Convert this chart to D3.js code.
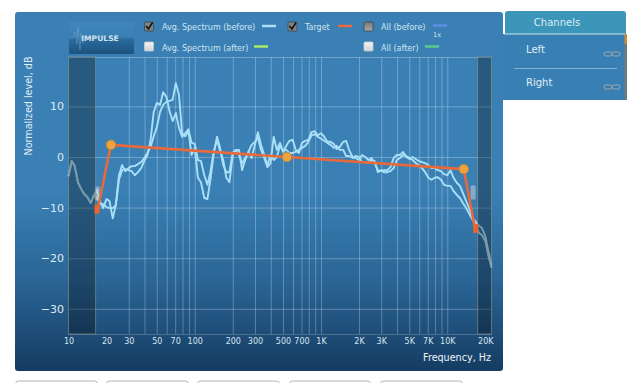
<!DOCTYPE html>
<html><head><meta charset="utf-8">
<script src="https://cdn.jsdelivr.net/npm/d3@7"></script>
<style>
html,body{margin:0;padding:0;background:#fff;}
svg{display:block;}
text{font-family:"DejaVu Sans",sans-serif;}
</style></head><body><svg id="c" width="640" height="383"></svg>
<script>
const freqs=[10,10.6,11.2,11.9,12.6,13.3,14.1,15,15.8,16.8,17.8,18.8,20,21.1,22.4,23.7,25.1,26.6,28.2,29.9,31.6,33.5,35.5,37.6,39.8,42.2,44.7,47.3,50.1,53.1,56.2,59.6,63.1,66.8,70.8,75,79.4,84.1,89.1,94.4,
100,106,112,119,126,133,141,150,158,168,178,188,200,211,224,237,251,266,282,299,316,335,355,376,398,422,447,473,501,531,562,596,631,668,708,750,794,841,891,944,
1000,1060,1120,1190,1260,1330,1410,1500,1580,1680,1780,1880,2000,2110,2240,2370,2510,2660,2820,2990,3160,3350,3550,3760,3980,4220,4470,4730,5010,5310,5620,5960,6310,6680,7080,7500,7940,8410,8910,9440,
10000,10600,11200,11900,12600,13300,14100,15000,15800,16800,17800,18800,20000,21100,22400];
const spectrumA=[-3.8,-0.8,-1.8,-5.1,-6.3,-7.3,-7.9,-9.1,-7.7,-6.5,-8.9,-10.1,-8.3,-8.7,-12.1,-9.5,-3.6,-1.6,-2.8,-2.2,-1.8,-1.8,-1.4,-1.0,-0.2,0.8,2.0,4.1,5.9,8.9,10.3,10.9,11.1,11.3,14.6,12.3,4.7,4.1,5.1,0.4,
1.8,-4.1,-5.0,-8.1,-8.3,-4.5,0.4,4.0,2.0,-1.6,-3.0,-3.0,0.8,1.4,0.4,-1.2,-0.2,1.0,2.4,3.0,3.8,1.4,-0.2,-2.0,-1.2,4.0,1.4,2.8,1.0,2.2,3.2,3.4,1.4,0.8,2.8,3.2,3.4,4.9,5.1,4.3,
4.7,4.0,3.0,3.0,2.6,1.6,2.0,3.0,3.2,1.2,0,-0.2,-0.6,0.4,0,-0.6,-0.2,-1.2,-2.6,-2.8,-2.6,-2.6,-2.0,-0.2,0.4,0.4,1.0,0,-0.4,0,-0.4,-0.8,-1.0,-1.2,-1.6,-2.2,-2.2,-2.6,-2.8,-3.4,
-3.6,-2.6,-4.1,-5.1,-5.7,-7.1,-8.7,-10.3,-12.1,-12.8,-13.6,-14.0,-15.6,-18.4,-21.3];
const spectrumB=[-3.8,-0.8,-1.8,-5.1,-6.3,-7.3,-7.9,-9.1,-7.7,-8.1,-9.1,-9.3,-9.9,-10.1,-10.1,-9.5,-4.5,-2.6,-2.4,-2.6,-2.8,-3.6,-3.0,-2.2,-0.8,0.4,3.4,8.9,10.7,10.3,12.8,11.9,9.1,7.1,8.7,5.7,4.0,4.7,5.5,2.8,
2.6,-0.6,-0.8,-3.6,-5.5,-3.0,1.0,3.4,1.4,-0.6,-4.1,-5.0,0.4,1.4,1.4,-2.6,-0.6,1.0,-0.2,2.4,4.9,2.4,0.4,-1.6,0.4,-0.6,0,2.2,1.2,1.4,0.8,0.8,1.0,1.4,1.8,2.2,3.0,4.3,4.5,4.0,
3.6,3.2,2.8,2.4,1.8,2.2,1.4,1.4,0.2,0.2,-0.2,0.2,0,-1,-1,-1.2,-0.6,-0.8,-3,-2.6,-3,-3,-2.8,-2.2,-0.6,-0.2,0.4,0.2,-0.2,-0.6,-1.2,-1.6,-2.2,-3,-4.1,-4.5,-4.1,-4,-4.5,-5.5,
-5.7,-5.7,-6.7,-7.5,-8.1,-9.1,-10.1,-11.3,-12.3,-13.4,-15,-15.4,-16.6,-19.4,-21.9];
const targetFreqs=[16.8,21.7,537,13500,16800];
const targetDb=[-11,2.4,0,-2.4,-14.8];
const handleIndex=[1,2,3];
const bandLow=[10,16.4];
const bandHigh=[17400,22400];
const markerFreqs=[16.9,16000];
const markerDb=[-7.2,-7.0];
const xTickValues=[10,20,30,50,70,100,200,300,500,700,1000,2000,3000,5000,7000,10000,20000];
const xGridValues=[30,40,50,60,70,80,90,100,200,300,400,500,600,700,800,900,1000,2000,3000,4000,5000,6000,7000,8000,9000,10000];
const yTickValues=[10,0,-10,-20,-30];
const legendLabels=["Avg. Spectrum (before)","Avg. Spectrum (after)","Target","All (before)","All (after)"];
const channelLabels=["Left","Right"];

const svg=d3.select("#c");
const defs=svg.append("defs");
function grad(id,stops){const g=defs.append("linearGradient").attr("id",id).attr("x1",0).attr("x2",0).attr("y1",0).attr("y2",1);
 stops.forEach(s=>g.append("stop").attr("offset",s[0]).attr("stop-color",s[1]));}
grad("panel",[[0,"#3a80b5"],[0.5,"#3a80b5"],[0.75,"#2a6596"],[1,"#153c62"]]);
grad("btn",[[0,"#3f86ba"],[0.45,"#3a80b4"],[0.55,"#2a6a9c"],[1,"#1b527f"]]);
grad("chk",[[0,"#f4f4f4"],[1,"#cfd4d8"]]);
grad("chkOn",[[0,"#777"],[1,"#aaa"]]);

const x=d3.scaleLog().domain([10,22400]).range([68.5,491.5]);
const y=d3.scaleLinear().domain([0,-10]).range([157,207.6]);
const top_=57,bot=334;

svg.append("rect").attr("x",15).attr("y",12).attr("width",488).attr("height",359).attr("rx",3).attr("fill","url(#panel)");

[[15,97],[106,188],[197,279],[289,370],[380,462]].forEach(b=>svg.append("rect").attr("x",b[0]+.5).attr("y",381).attr("width",b[1]-b[0]).attr("height",10).attr("rx",3).attr("fill","#fff").attr("stroke","#b4b4b4"));

const gx=svg.append("g").attr("transform",`translate(0,${bot})`).call(d3.axisBottom(x).tickValues(xGridValues).tickSize(-(bot-top_)).tickFormat(""));
gx.select(".domain").remove();
gx.selectAll("line").attr("stroke","#fff").attr("stroke-opacity",.27);
const gy=svg.append("g").attr("transform","translate(68.5,0)").call(d3.axisLeft(y).tickValues(yTickValues).tickSize(-423).tickFormat(""));
gy.select(".domain").remove();
gy.selectAll("line").attr("stroke","#fff").attr("stroke-opacity",.27);
svg.append("line").attr("x1",68.5).attr("x2",491.5).attr("y1",top_+.5).attr("y2",top_+.5).attr("stroke","#fff").attr("stroke-opacity",.27);
svg.append("line").attr("x1",68.5).attr("x2",491.5).attr("y1",bot+.5).attr("y2",bot+.5).attr("stroke","#fff").attr("stroke-opacity",.2);

const line=d3.line().x((d,i)=>x(freqs[i])).y(d=>y(d)).curve(d3.curveLinear);
[spectrumB,spectrumA].forEach(s=>svg.append("path").datum(s).attr("d",line).attr("fill","none").attr("stroke","#a9dff7").attr("stroke-width",1.9).attr("stroke-linejoin","round"));

markerFreqs.forEach((f,i)=>{
 svg.append("rect").attr("x",x(f)-2.5).attr("y",y(markerDb[i])-7).attr("width",5).attr("height",14).attr("rx",1).attr("fill","#c9ced2").attr("fill-opacity",.55);
});

[bandLow,bandHigh].forEach(b=>{
 svg.append("rect").attr("x",x(b[0])).attr("y",top_).attr("width",x(b[1])-x(b[0])).attr("height",bot-top_).attr("fill","#000").attr("fill-opacity",.3).attr("stroke","#9a9a8a").attr("stroke-opacity",.55);
});

const tLine=d3.line().x((d,i)=>x(targetFreqs[i])).y(d=>y(d));
svg.append("path").datum(targetDb).attr("d",tLine).attr("fill","none").attr("stroke","#e8693a").attr("stroke-width",2.6).attr("stroke-linejoin","round");
[0,4].forEach(i=>svg.append("rect").attr("x",x(targetFreqs[i])-2.5).attr("y",y(targetDb[i])-8).attr("width",5).attr("height",9).attr("fill","#e8652e"));
svg.selectAll("circle.h").data(handleIndex).join("circle").attr("class","h")
 .attr("cx",i=>x(targetFreqs[i])).attr("cy",i=>y(targetDb[i])).attr("r",4.8)
 .attr("fill","#f1a23e").attr("stroke","#a98c45").attr("stroke-width",1);

const xFmt=d=>d>=1000?(d/1000)+"K":d;
const ax=svg.append("g").attr("transform",`translate(0,${bot})`).call(d3.axisBottom(x).tickValues(xTickValues).tickSize(0).tickPadding(4).tickFormat(xFmt));
ax.select(".domain").remove();
ax.selectAll("text").attr("fill","#d6e6f0").attr("font-size",8).attr("dy","0.8em");
const ay=svg.append("g").attr("transform","translate(64,0)").call(d3.axisLeft(y).tickValues(yTickValues).tickSize(0).tickPadding(0).tickFormat(d=>d<0?"\u2212"+(-d):d));
ay.select(".domain").remove();
ay.selectAll("text").attr("fill","#dcebf3").attr("font-size",11);

svg.append("text").attr("transform","translate(32,106) rotate(-90)").attr("text-anchor","middle").attr("font-size",9.6).attr("fill","#e2eef5").text("Normalized level, dB");
svg.append("text").attr("x",491).attr("y",361).attr("text-anchor","end").attr("font-size",9.6).attr("fill","#eef5f9").text("Frequency, Hz");

svg.append("rect").attr("x",69).attr("y",22).attr("width",65).attr("height",32).attr("rx",1).attr("fill","url(#btn)");
svg.append("path").attr("d","M70 38H73L75 32L77 44L78 27L80 50L81 33L83 43L85 36L87 40L90 38H100").attr("fill","none").attr("stroke","#7fb2d4").attr("stroke-opacity",.5).attr("stroke-width",.8);
svg.append("text").attr("x",100).attr("y",41).attr("text-anchor","middle").attr("font-size",7.6).attr("font-weight","bold").attr("fill","#cfe3ef").text("IMPULSE");

const legendRows=[
 {lab:0,cx:144.5,cy:22,on:1,tx:162,ty:30,sw:[262,276,26],col:"#a9dff7"},
 {lab:1,cx:144.5,cy:42,on:0,tx:162,ty:51,sw:[254,268,46.5],col:"#a8e86a"},
 {lab:2,cx:288,cy:22,on:1,tx:305,ty:30,sw:[338,352,26],col:"#e8693a"},
 {lab:3,cx:364,cy:22,on:2,tx:381,ty:30,sw:[433,447,25.5],col:"#5b90e2"},
 {lab:4,cx:364,cy:42,on:0,tx:381,ty:51,sw:[425,439,46.5],col:"#5cc98c"}];
legendRows.forEach(r=>{
 svg.append("rect").attr("x",r.cx).attr("y",r.cy).attr("width",9).attr("height",9).attr("rx",1).attr("fill",r.on==1?"#7d8488":r.on==2?"url(#chkOn)":"url(#chk)").attr("stroke",r.on?"#444":"#ccc").attr("stroke-width",.8);
 if(r.on==1) svg.append("path").attr("d",`M${r.cx+1.5} ${r.cy+4}l2.5 3l4 -6.5`).attr("fill","none").attr("stroke","#111").attr("stroke-width",1.6);
 svg.append("text").attr("x",r.tx).attr("y",r.ty).attr("font-size",8).attr("fill","#d3e5f0").text(legendLabels[r.lab]);
 svg.append("line").attr("x1",r.sw[0]).attr("x2",r.sw[1]).attr("y1",r.sw[2]).attr("y2",r.sw[2]).attr("stroke",r.col).attr("stroke-width",2.5);
});
svg.append("text").attr("x",433).attr("y",37).attr("font-size",6.5).attr("fill","#d3e5f0").text("1x");

svg.append("rect").attr("x",503).attr("y",34).attr("width",124).attr("height",66).attr("fill","#3880b4");
svg.append("rect").attr("x",624.5).attr("y",34).attr("width",2.5).attr("height",66).attr("fill","#6f7a80");
svg.append("rect").attr("x",624.5).attr("y",34).attr("width",2.5).attr("height",10).attr("fill","#c98a3a");
svg.append("path").attr("d","M505 34V14a3 3 0 0 1 3-3H623a3 3 0 0 1 3 3V34Z").attr("fill","#3c96b9");
svg.append("line").attr("x1",504).attr("x2",625).attr("y1",34).attr("y2",34).attr("stroke","#cfe3ec").attr("stroke-width",1);
svg.append("text").attr("x",557).attr("y",26).attr("text-anchor","middle").attr("font-size",10).attr("fill","#dcecf3").text("Channels");
svg.append("line").attr("x1",514).attr("x2",617).attr("y1",68.5).attr("y2",68.5).attr("stroke","#7fb3d3").attr("stroke-width",1);
channelLabels.forEach((t,i)=>{
 const yy=53+i*33;
 svg.append("text").attr("x",526).attr("y",yy).attr("font-size",10).attr("fill","#e2eef5").text(t);
 const cy=yy-1;
 [604,612].forEach(xx=>svg.append("rect").attr("x",xx).attr("y",cy).attr("width",8).attr("height",4).attr("rx",2).attr("fill","none").attr("stroke","#9aa5aa").attr("stroke-width",1));
});
</script></body></html>
